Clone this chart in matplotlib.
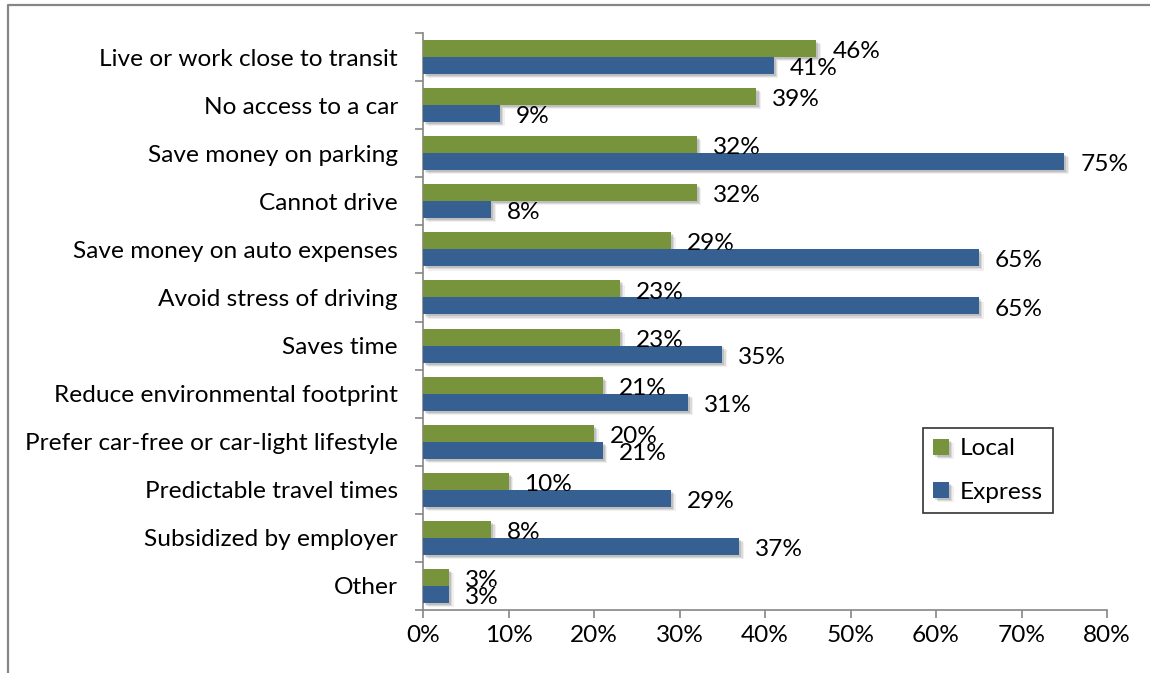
import matplotlib
matplotlib.use("Agg")
import matplotlib.pyplot as plt
import matplotlib.patheffects as pe
from matplotlib.lines import Line2D
import numpy as np

categories = [
    "Live or work close to transit",
    "No access to a car",
    "Save money on parking",
    "Cannot drive",
    "Save money on auto expenses",
    "Avoid stress of driving",
    "Saves time",
    "Reduce environmental footprint",
    "Prefer car-free or car-light lifestyle",
    "Predictable travel times",
    "Subsidized by employer",
    "Other",
]
local = [46, 39, 32, 32, 29, 23, 23, 21, 20, 10, 8, 3]
express = [41, 9, 75, 8, 65, 65, 35, 31, 21, 29, 37, 3]
xticks = [0, 10, 20, 30, 40, 50, 60, 70, 80]

GREEN = "#77933C"
BLUE = "#376092"
FONT = "Lato"
FS = 17.6

plt.rcParams["font.family"] = [FONT, "DejaVu Sans"]

W, H = 1150, 673
fig = plt.figure(figsize=(W / 100, H / 100), dpi=100)
# chart-area border: only top and left edges are visible in the crop
fig.lines.append(Line2D([8 / W, 8 / W, 1.0], [0.0, 1 - 5 / H, 1 - 5 / H],
                        transform=fig.transFigure, color="#868686", linewidth=1.6))
ax_l, ax_r, ax_t, ax_b = 423, 1107, 33, 610
ax = fig.add_axes([ax_l / W, 1 - ax_b / H, (ax_r - ax_l) / W, (ax_b - ax_t) / H])

n = len(categories)
y = np.arange(n)
h = 0.354
shadow = [pe.SimplePatchShadow(offset=(3.5, -3), shadow_rgbFace="#000000", alpha=0.06),
          pe.SimplePatchShadow(offset=(2.5, -2.2), shadow_rgbFace="#000000", alpha=0.09),
          pe.SimplePatchShadow(offset=(1.5, -1.4), shadow_rgbFace="#000000", alpha=0.12),
          pe.Normal()]
b1 = ax.barh(y - h / 2, local, height=h, color=GREEN, label="Local", zorder=3)
b2 = ax.barh(y + h / 2, express, height=h, color=BLUE, label="Express", zorder=3)
for b in list(b1) + list(b2):
    b.set_path_effects(shadow)

for yi, v in zip(y, local):
    ax.annotate(f"{v}%", (v, yi - h / 2), xytext=(11.5, -2.2), textcoords="offset points",
                ha="left", va="center", fontsize=FS, zorder=5)
for yi, v in zip(y, express):
    ax.annotate(f"{v}%", (v, yi + h / 2), xytext=(11.5, -2.2), textcoords="offset points",
                ha="left", va="center", fontsize=FS, zorder=5)

ax.set_xlim(0, 80)
ax.set_ylim(n - 0.5, -0.5)
ax.set_xticks(xticks)
ax.set_xticklabels([f"{t}%" for t in xticks], fontsize=FS)
ax.set_yticks(y)
ax.set_yticklabels(categories, fontsize=FS)
ax.tick_params(axis="y", which="major", length=0, pad=18)
ax.set_yticks(np.arange(n + 1) - 0.5, minor=True)
ax.tick_params(axis="y", which="minor", length=5.8, color="#868686", width=1.2)
ax.tick_params(axis="x", length=5.8, color="#868686", width=1.2, pad=5)

for s in ["top", "right"]:
    ax.spines[s].set_visible(False)
for s in ["left", "bottom"]:
    ax.spines[s].set_color("#868686")
    ax.spines[s].set_linewidth(1.2)

leg = ax.legend(loc="upper left",
                bbox_to_anchor=((923 - ax_l) / (ax_r - ax_l), 1 - (428 - ax_t) / (ax_b - ax_t)),
                borderaxespad=0, fontsize=FS, frameon=True, fancybox=False, edgecolor="black",
                handlelength=0.63, handleheight=0.63, labelspacing=0.92, borderpad=0.42,
                handletextpad=0.45)
leg.get_frame().set_linewidth(1.2)

fig.savefig("out.png", dpi=100)
